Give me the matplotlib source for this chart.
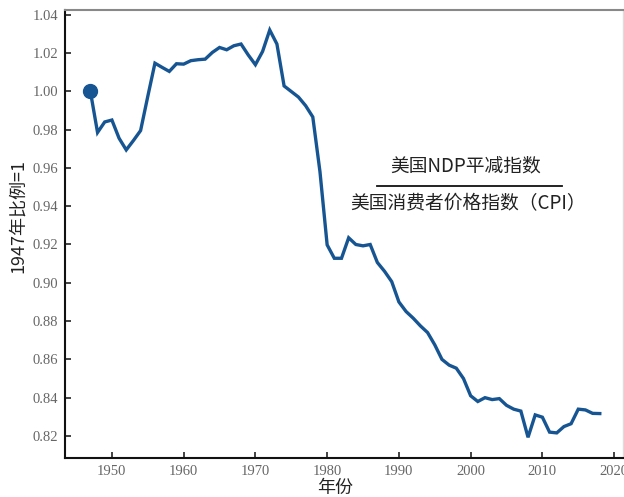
import matplotlib
matplotlib.use("Agg")
import matplotlib.pyplot as plt

years = list(range(1947, 2019))
ratio = [
    1.000, 0.9785, 0.984, 0.985, 0.9755, 0.9694, 0.9743, 0.9795, 0.9973, 1.0147,
    1.0125, 1.0104, 1.0144, 1.0142, 1.016, 1.0165, 1.0168, 1.0203, 1.0229, 1.0217,
    1.0238, 1.0247, 1.019, 1.0139, 1.0208, 1.0320, 1.0247, 1.0028, 0.9999, 0.997,
    0.9925, 0.9866, 0.958, 0.9198, 0.9128, 0.9128, 0.9235, 0.920, 0.9193, 0.920,
    0.9106, 0.906, 0.9006, 0.890, 0.885, 0.8815, 0.8775, 0.874, 0.8676, 0.860,
    0.857, 0.8554, 0.850, 0.841, 0.838, 0.840, 0.839, 0.8395, 0.836, 0.834,
    0.833, 0.8193, 0.831, 0.8298, 0.822, 0.8216, 0.8249, 0.8264, 0.834, 0.8336,
    0.8318, 0.8317,
]
xticks = [1950, 1960, 1970, 1980, 1990, 2000, 2010, 2020]
yticks = [0.82, 0.84, 0.86, 0.88, 0.90, 0.92, 0.94, 0.96, 0.98, 1.00, 1.02, 1.04]

line_color = "#165592"
cjk = ["Noto Sans CJK SC", "DejaVu Sans"]

fig = plt.figure(figsize=(6.24, 4.97), dpi=100)
ax = fig.add_axes([0.104, 0.0785, 0.894, 0.9015])

ax.plot(years, ratio, color=line_color, lw=2.4, solid_joinstyle="miter", zorder=3)
ax.plot([years[0]], [ratio[0]], "o", color=line_color, ms=10, zorder=4)

ax.set_xlim(1943.45, 2021.2)
ax.set_ylim(0.8085, 1.0425)
ax.set_xticks(xticks)
ax.set_yticks(yticks)
ax.set_xticklabels([str(x) for x in xticks])
ax.set_yticklabels([f"{v:.2f}" for v in yticks])
for lab in ax.get_xticklabels() + ax.get_yticklabels():
    lab.set_fontfamily("Liberation Serif")
    lab.set_fontsize(10.5)
    lab.set_color("#666666")
ax.tick_params(direction="in", length=4, width=1.2, color="#222222", pad=5)
ax.tick_params(axis="x", pad=5)

for side in ("left", "bottom"):
    ax.spines[side].set_color("#111111")
    ax.spines[side].set_linewidth(1.5)
ax.spines["top"].set_color("#888888")
ax.spines["top"].set_linewidth(1.5)
ax.spines["right"].set_color("#dddddd")
ax.spines["right"].set_linewidth(1.0)

ax.set_xlabel("年份", family=cjk, fontsize=13, color="#222222", va="center")
ax.xaxis.set_label_coords(0.484, -0.066)
ax.set_ylabel("1947年比例=1", family=cjk, fontsize=13, color="#222222", va="center")
ax.yaxis.set_label_coords(-0.084, 0.54)

# fraction-style annotation: NDP deflator over CPI
ax.text(1999.3, 0.9612, "美国NDP平减指数", family=cjk, fontsize=13.5,
        ha="center", va="center", color="#222222")
ax.plot([1986.9, 2012.8], [0.9505, 0.9505], color="#111111", lw=1.3)
ax.text(1999.7, 0.9412, "美国消费者价格指数（CPI）", family=cjk, fontsize=13.5,
        ha="center", va="center", color="#222222")

fig.savefig("out.png", dpi=100)
